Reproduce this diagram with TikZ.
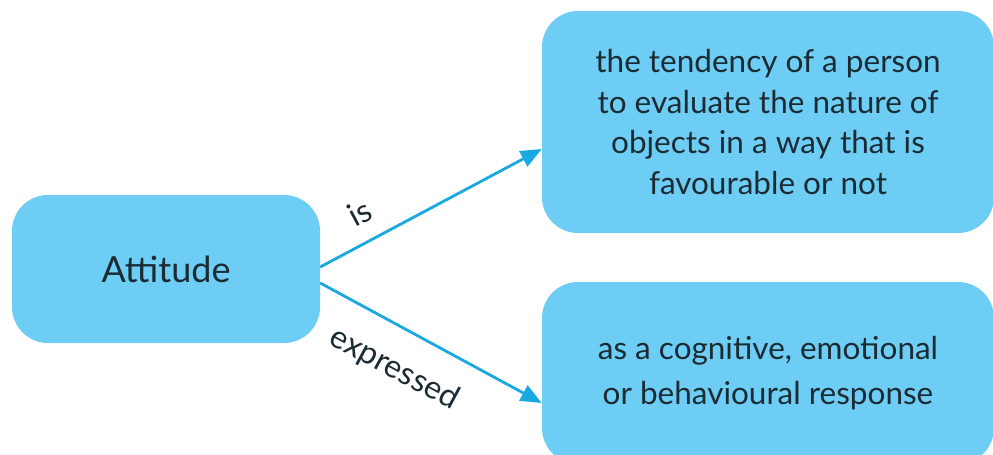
\documentclass[tikz,border=0pt]{standalone}
\usepackage{fontspec}
\setmainfont{Lato}
\usetikzlibrary{arrows.meta}
\definecolor{boxfill}{HTML}{6DCDF4}
\definecolor{linecol}{HTML}{1AA8E0}
\definecolor{txt}{HTML}{1B2B33}
\tikzset{
  bubble/.style={fill=boxfill, rounded corners=36pt, align=center, text=txt, inner sep=0pt,
     font=\fontsize{31.5}{40.5}\selectfont},
  conn/.style={draw=linecol, line width=2.8pt, -{Triangle[length=21pt,width=17pt]}},
  lbl/.style={text=txt, font=\fontsize{32}{36}\selectfont, sloped}
}
\begin{document}
\begin{tikzpicture}[x=1pt,y=1pt]
\useasboundingbox (0,0) rectangle (993,-455);
\clip (0,0) rectangle (993,-455);
\node[bubble, minimum width=308pt, minimum height=148pt, font=\fontsize{36}{40}\selectfont] (att) at (166,-269) {Attitude};
\node[bubble, minimum width=452pt, minimum height=222pt] (top) at (768,-122)
  {the tendency of a person\\to evaluate the nature of\\objects in a way that is\\favourable or not};
\node[bubble, minimum width=452pt, minimum height=182pt, font=\fontsize{31.5}{45}\selectfont] (bot) at (768,-373)
  {as a cognitive, emotional\\or behavioural response};
\draw[conn] ([yshift=2pt]att.east) -- node[lbl, pos=0.24, above=13pt] {is} ([yshift=-27pt]top.west);
\draw[conn] ([yshift=-14pt]att.east) -- node[lbl, pos=0.42, below=21pt] {expressed} ([yshift=-30pt]bot.west);
\end{tikzpicture}
\end{document}
